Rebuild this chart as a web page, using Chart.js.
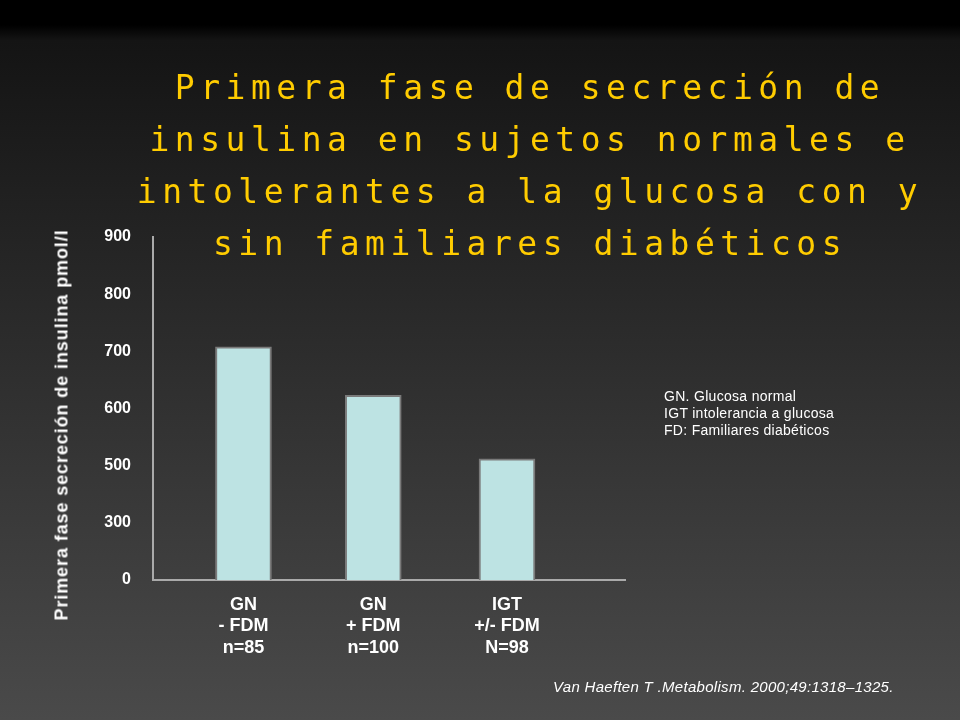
<!DOCTYPE html>
<html><head><meta charset="utf-8">
<script src="https://cdn.jsdelivr.net/npm/chart.js@4/dist/chart.umd.min.js"></script>
<style>
html,body{margin:0;padding:0;width:960px;height:720px;overflow:hidden;background:linear-gradient(#000 0px,#000 25px,#141414 40px,#4a4a4a 720px);font-family:"Liberation Sans",Arial,sans-serif;}
#title{position:absolute;left:90px;top:62px;width:880px;text-align:center;color:#FFCC00;font-family:"DejaVu Sans Mono",monospace;font-size:33px;line-height:52px;letter-spacing:5.5px;}
#ytitle{position:absolute;left:62px;top:425px;transform:translate(-50%,-50%) rotate(-90deg);white-space:nowrap;color:#fff;font-weight:bold;font-size:18px;letter-spacing:0.9px;}
#notes{position:absolute;left:664px;top:388px;color:#fff;font-size:14px;line-height:17px;letter-spacing:0.3px;}
#cite{position:absolute;left:553px;top:678px;color:#fff;font-style:italic;font-size:15px;letter-spacing:0.3px;}
#wrap{position:absolute;left:0;top:0;width:960px;height:720px;}
</style></head><body>
<div id="wrap"><canvas id="c" width="960" height="720"></canvas></div>
<div id="title">Primera fase de secreción de<br>insulina en sujetos normales e<br>intolerantes a la glucosa con y<br>sin familiares diabéticos</div>
<div id="ytitle">Primera fase secreción de insulina pmol/l</div>
<div id="notes">GN. Glucosa normal<br>IGT intolerancia a glucosa<br>FD: Familiares diabéticos</div>
<div id="cite">Van Haeften T .Metabolism. 2000;49:1318–1325.</div>
<script>
const categories=[["GN","- FDM","n=85"],["GN","+ FDM","n=100"],["IGT","+/- FDM","N=98"]];
const values=[708,623,512];
const tickLabels=[0,300,500,600,700,800,900];
const xPos=[0.69,1.68,2.7];
function toIdx(v){for(let i=0;i<tickLabels.length-1;i++){if(v<=tickLabels[i+1]){return i+(v-tickLabels[i])/(tickLabels[i+1]-tickLabels[i]);}}return tickLabels.length-1;}
const data=values.map((v,i)=>({x:xPos[i],y:toIdx(v)}));
new Chart(document.getElementById('c'),{
 type:'bar',
 data:{datasets:[{data:data,backgroundColor:'#bde3e3',borderColor:'#7a7a7a',borderWidth:2,barThickness:56}]},
 options:{responsive:false,animation:false,
  layout:{padding:{left:0,right:335,top:237,bottom:0}},
  plugins:{legend:{display:false},tooltip:{enabled:false}},
  scales:{
   x:{type:'linear',offset:false,min:0,max:3.6,grid:{display:false},border:{color:'#aaa',width:2},
      afterFit:s=>{s.height=140;},
      afterBuildTicks:s=>{s.ticks=xPos.map(v=>({value:v}));},
      ticks:{color:'#fff',font:{size:18,weight:'bold'},padding:6,autoSkip:false,maxRotation:0,callback:(v,i)=>categories[i]}},
   y:{min:0,max:6,grid:{display:false},border:{color:'#aaa',width:2},
      afterFit:s=>{s.width=153;},
      afterBuildTicks:s=>{s.ticks=tickLabels.map((t,i)=>({value:i}));},
      ticks:{color:'#fff',font:{size:16,weight:'bold'},padding:14,callback:(v,i)=>String(tickLabels[i])}}
  }}
});
</script>
</body></html>
